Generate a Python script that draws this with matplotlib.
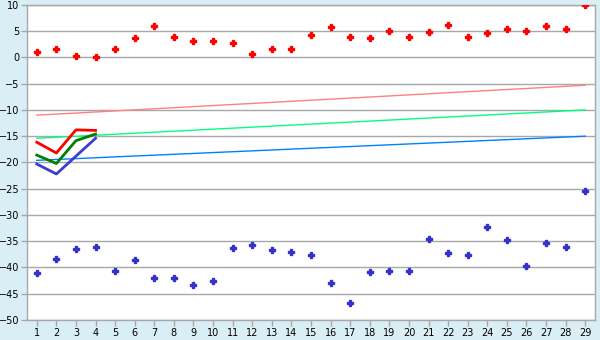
import matplotlib
matplotlib.use("Agg")
import matplotlib.pyplot as plt

days = list(range(1, 30))

# scatter series
red_pts = [1.0, 1.7, 0.2, 0.0, 1.7, 3.65, 5.95, 3.85, 3.05, 3.05,
           2.7, 0.6, 1.55, 1.55, 4.2, 5.75, 3.85, 3.65, 5.0, 3.85,
           4.8, 6.15, 3.85, 4.6, 5.35, 5.0, 5.95, 5.35, 10.0]
blue_pts = [-41.15, -38.3, -36.55, -36.15, -40.75, -38.65, -42.1, -42.1, -43.25, -42.5,
            -36.35, -35.8, -36.75, -37.1, -37.7, -42.9, -46.7, -40.95, -40.6, -40.6,
            -34.6, -37.3, -37.7, -32.3, -34.8, -39.8, -35.4, -36.15, -25.4]

# short thick lines (first four days)
short_days = [1, 2, 3, 4]
red_short = [-16.15, -18.2, -13.8, -13.9]
green_short = [-18.6, -20.2, -15.85, -14.6]
blue_short = [-20.3, -22.2, -18.8, -15.4]

# thin trend lines (start / end values)
trend_days = [days[0], days[-1]]
red_trend = [-11.0, -5.3]
green_trend = [-15.4, -10.0]
blue_trend = [-19.6, -15.0]

bg = "#daeff5"
grid_c = "#a8a8a8"

fig = plt.figure(figsize=(6, 3.4), dpi=100, facecolor=bg)
ax = fig.add_axes([0.045, 0.059, 0.9467, 0.9265])
ax.set_facecolor("white")

for y in range(-50, 11, 5):
    ax.axhline(y, color=grid_c, lw=1, zorder=1)

ax.plot(trend_days, red_trend, color="#ff8080", lw=1, zorder=2)
ax.plot(trend_days, green_trend, color="#00ff80", lw=1, zorder=2)
ax.plot(trend_days, blue_trend, color="#0080ff", lw=1, zorder=2)

ax.plot(short_days, red_short, color="#ff0000", lw=2, zorder=3)
ax.plot(short_days, green_short, color="#008000", lw=2, zorder=3)
ax.plot(short_days, blue_short, color="#3c3cd0", lw=2, zorder=3)

ax.plot(days, red_pts, ls="none", marker="P", ms=4.5, color="#ff0000", zorder=4)
ax.plot(days, blue_pts, ls="none", marker="P", ms=4.5, color="#3333cc", zorder=4)

ax.set_xlim(0.5, 29.5)
ax.set_ylim(-50, 10)
ax.set_xticks(days)
ax.set_yticks(range(-50, 11, 5))
ax.tick_params(axis="both", colors=grid_c, labelcolor="black", labelsize=7,
               length=4, width=1, pad=1.5)
for s in ax.spines.values():
    s.set_color(grid_c)
    s.set_linewidth(1)

fig.savefig("out.png", dpi=100, facecolor=bg)
